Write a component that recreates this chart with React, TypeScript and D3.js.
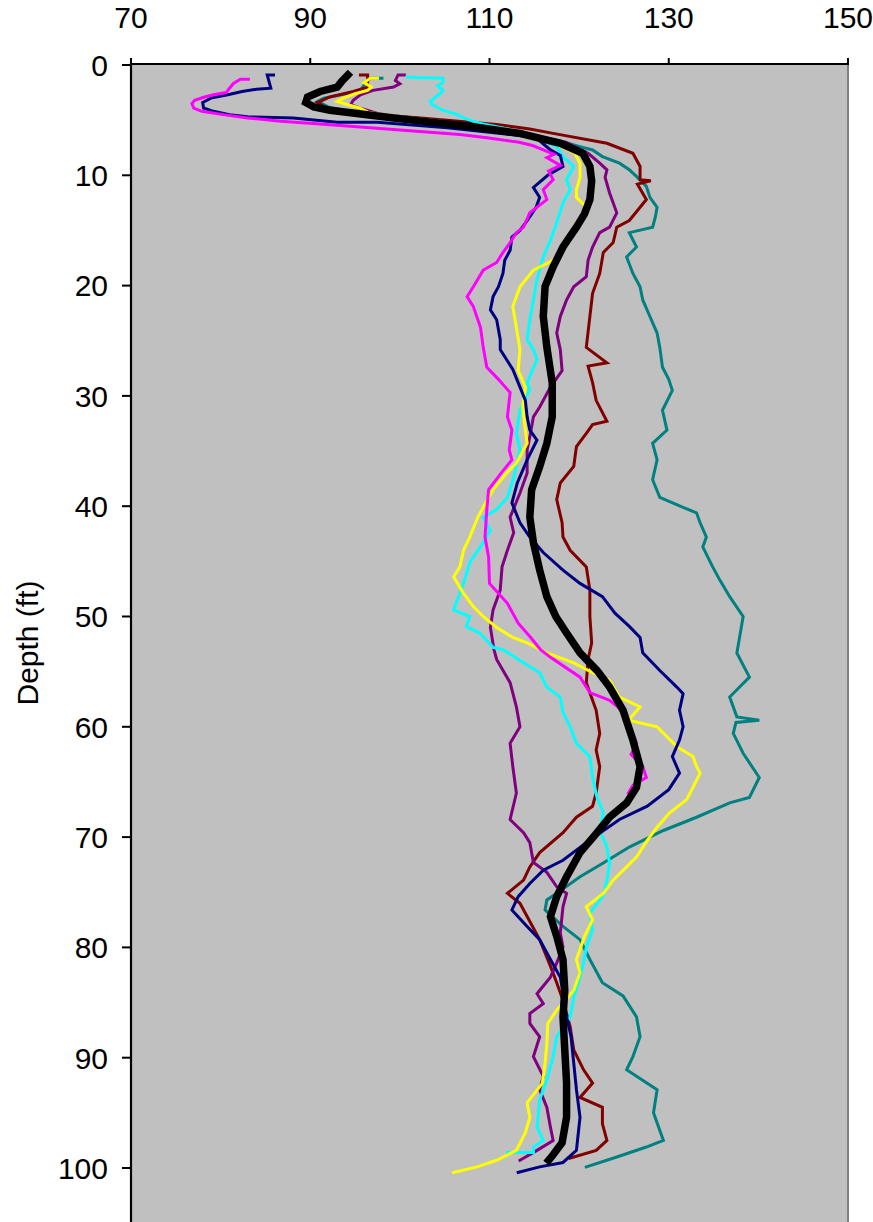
import React from "react";
import * as d3 from "d3";

const xTicks = [70, 90, 110, 130, 150];
const yTicks = [0, 10, 20, 30, 40, 50, 60, 70, 80, 90, 100];

// [depth (ft), value]
const magenta: [number, number][] = [
  [1.3,83.1],[1.3,82.2],[1.7,81.4],[2.2,80.9],[2.5,80.6],[2.7,79.2],[2.9,78.2],[3.2,77.1],[3.5,76.8],[3.9,77.0],[4.2,77.9],[4.5,80.3],[4.8,83.0],[5.1,86.7],[5.3,90.3],[5.6,95.2],[5.9,100.0],[6.3,106.7],[6.6,109.7],[7.0,113.3],[7.3,114.8],[7.7,116.0],[8.1,117.2],[8.4,116.4],[9.1,117.9],[9.6,116.6],[10.4,117.1],[11.3,116.0],[12.2,116.4],[13.4,114.5],[14.7,113.8],[15.2,113.0],[16.1,112.3],[17.0,111.5],[17.9,110.8],[18.6,109.3],[20.1,108.2],[21.0,107.5],[21.9,108.2],[23.8,109.0],[25.6,109.3],[27.4,109.7],[28.5,111.0],[29.7,112.3],[31.9,112.0],[33.1,112.5],[34.9,112.2],[35.8,112.5],[37.0,111.3],[38.5,109.9],[40.3,109.7],[42.8,109.5],[44.6,109.9],[47.0,110.0],[48.8,112.0],[50.6,113.2],[51.9,114.6],[53.0,115.7],[53.7,116.8],[55.5,120.1],[56.9,121.2],[57.6,123.4],[58.5,124.8],[59.5,125.3],[60.6,126.0],[61.5,126.4],[62.5,125.8],[63.6,127.1],[64.6,127.5],[65.3,126.0],[66.0,125.5]
];

const navy: [number, number][] = [
  [0.9,85.9],[0.9,85.2],[2.1,85.6],[2.2,84.0],[2.4,82.4],[2.7,80.8],[3.0,78.9],[3.4,78.0],[3.9,78.1],[4.2,79.2],[4.5,81.0],[4.7,83.0],[4.8,88.1],[5.2,93.0],[5.2,97.5],[5.7,105.3],[6.1,110.0],[6.5,114.5],[6.8,115.5],[7.7,116.8],[8.2,117.9],[9.2,118.2],[10.0,116.5],[11.1,114.9],[12.0,115.6],[12.9,115.2],[14.1,114.2],[15.0,113.4],[15.6,112.5],[16.8,112.3],[17.7,111.7],[18.9,111.5],[20.1,111.0],[21.0,110.4],[22.2,110.1],[23.1,110.8],[24.9,111.2],[25.8,111.2],[27.6,112.6],[28.8,113.2],[30.4,114.0],[31.9,114.2],[33.1,114.5],[34.0,115.3],[35.8,114.2],[37.9,113.1],[39.7,112.5],[41.5,113.4],[42.8,114.5],[44.2,116.0],[45.8,118.2],[47.0,120.1],[48.2,122.6],[49.7,124.0],[50.9,125.6],[51.9,126.8],[53.3,127.1],[54.9,129.0],[56.4,130.9],[57.0,131.6],[58.5,131.2],[60.0,131.6],[61.2,131.2],[62.7,130.4],[64.2,131.2],[65.7,130.0],[67.2,127.6],[68.4,124.5],[70.5,120.8],[72.1,118.2],[73.0,116.0],[74.2,114.5],[75.4,113.2],[76.6,112.5],[78.1,114.2],[79.3,115.6],[81.1,116.8],[82.7,117.9],[84.1,118.2],[86.3,118.6],[88.1,119.1],[90.5,119.4],[92.9,119.7],[95.4,120.1],[98.4,119.7],[99.5,118.2],[99.9,115.6],[100.4,113.2]
];

const teal: [number, number][] = [
  [1.2,98.0],[1.2,96.7],[1.6,96.2],[2.3,95.6],[2.6,94.0],[3.0,91.5],[3.3,90.8],[3.8,92.0],[4.4,95.5],[4.8,99.5],[5.2,103.5],[5.6,108.0],[6.2,113.5],[6.8,117.5],[7.4,120.1],[7.7,121.5],[8.3,122.6],[8.9,124.5],[9.5,125.6],[10.1,126.4],[11.0,127.5],[12.0,127.9],[12.9,128.7],[13.8,128.5],[14.7,128.2],[15.2,125.6],[16.5,126.4],[17.4,125.3],[18.9,126.0],[20.1,126.8],[21.3,127.1],[22.8,127.9],[24.3,128.7],[25.6,129.0],[27.4,129.3],[28.5,130.0],[29.5,130.4],[31.3,129.3],[33.1,129.8],[34.3,128.2],[35.8,128.7],[37.6,128.2],[39.2,129.0],[40.1,131.6],[40.6,133.1],[41.5,133.5],[42.8,134.2],[43.7,133.8],[45.5,134.9],[46.7,135.7],[48.2,136.8],[50.0,138.3],[51.9,137.9],[53.3,137.6],[55.5,139.0],[57.3,136.8],[59.1,137.6],[59.4,140.1],[59.6,137.5],[60.6,137.2],[62.4,138.3],[64.6,140.1],[66.4,139.0],[66.9,136.8],[68.2,133.1],[69.4,129.4],[70.9,125.6],[72.4,122.6],[73.6,120.1],[75.1,117.5],[75.7,116.4],[76.6,116.2],[78.1,118.2],[79.3,120.1],[81.1,121.2],[83.2,122.6],[84.4,124.9],[86.3,126.4],[88.1,126.8],[89.9,126.0],[91.1,125.3],[92.9,128.7],[95.0,128.3],[97.5,129.4],[98.1,127.5],[99.0,124.2],[99.9,120.8]
];

const maroon: [number, number][] = [
  [0.9,95.6],[0.9,96.4],[1.5,96.4],[2.0,96.4],[2.4,94.8],[2.9,92.2],[3.4,90.8],[3.9,91.8],[4.3,95.0],[4.6,99.0],[4.8,102.3],[5.4,110.8],[5.8,114.5],[6.2,117.1],[7.1,123.1],[8.0,126.0],[9.2,126.8],[10.4,126.8],[10.5,128.0],[10.8,126.5],[12.2,127.5],[14.1,125.6],[14.7,124.2],[16.1,123.8],[17.0,122.7],[18.9,122.3],[20.7,121.5],[22.8,121.2],[25.6,120.8],[27.0,123.1],[27.3,121.0],[28.8,121.5],[30.4,121.9],[32.3,123.1],[32.6,121.5],[33.4,120.8],[34.6,119.7],[36.4,119.4],[37.9,117.9],[39.4,117.5],[41.5,118.1],[42.8,118.2],[44.0,119.0],[45.5,120.8],[47.6,121.2],[50.0,121.2],[52.4,121.4],[53.9,121.0],[56.0,120.8],[58.5,121.9],[60.6,122.3],[62.1,121.9],[63.6,122.3],[66.0,121.9],[67.2,121.5],[68.2,119.7],[69.6,118.2],[71.4,115.6],[72.7,114.5],[73.9,113.8],[75.1,112.0],[76.0,113.4],[77.2,114.2],[79.3,115.6],[81.7,116.8],[83.2,117.5],[84.8,118.2],[87.2,119.0],[89.3,119.4],[91.1,120.5],[92.3,121.5],[93.6,120.1],[94.5,122.6],[96.0,122.6],[97.5,123.1],[98.4,121.9],[99.1,119.0]
];

const yellow: [number, number][] = [
  [1.2,97.5],[1.2,96.7],[1.6,96.0],[2.0,96.8],[2.3,96.4],[2.6,95.0],[3.0,93.7],[3.3,93.0],[3.6,94.2],[3.9,95.5],[4.3,96.5],[4.7,100.0],[5.1,104.5],[5.6,108.5],[6.2,113.5],[7.0,117.0],[8.0,119.5],[8.9,120.1],[10.2,120.1],[11.3,119.7],[12.0,119.7],[12.9,120.8],[14.7,119.4],[15.9,119.0],[17.7,117.1],[18.6,114.9],[20.1,113.4],[21.9,112.6],[23.8,113.0],[25.8,113.4],[27.7,113.2],[29.2,114.0],[31.0,113.7],[33.1,114.0],[34.3,114.2],[36.1,113.0],[37.0,111.9],[38.5,110.4],[40.1,109.3],[41.0,108.7],[42.8,107.8],[44.0,107.1],[45.5,106.7],[46.4,106.0],[47.9,107.1],[49.1,108.2],[50.0,109.3],[51.0,110.8],[51.9,112.6],[52.4,114.2],[53.3,116.4],[54.2,119.4],[55.1,121.5],[55.8,123.4],[57.3,124.5],[58.2,126.8],[59.4,125.5],[60.0,128.7],[60.9,129.8],[61.8,130.9],[62.7,132.7],[63.6,133.1],[64.2,133.5],[65.5,132.7],[66.6,132.0],[67.8,130.1],[69.1,128.7],[70.3,127.6],[71.8,126.4],[72.7,125.3],[73.9,123.8],[75.1,122.7],[76.3,120.8],[77.5,121.5],[79.0,120.6],[80.2,120.1],[81.1,119.7],[82.3,120.1],[83.9,119.4],[85.7,117.5],[86.9,116.5],[88.7,116.4],[90.5,116.2],[92.3,115.9],[94.1,114.2],[95.4,114.5],[96.8,114.0],[98.4,113.0],[99.3,110.8],[99.9,108.6],[100.4,106.0]
];

const purple: [number, number][] = [
  [0.9,100.5],[0.9,99.8],[1.4,99.5],[1.7,100.0],[2.0,99.3],[2.3,97.0],[2.7,95.6],[3.2,94.8],[3.6,94.5],[3.9,95.5],[4.4,97.5],[4.8,100.5],[5.2,104.0],[5.6,108.5],[6.2,113.5],[7.0,118.5],[8.0,121.0],[8.9,122.3],[9.5,123.1],[10.2,122.9],[11.6,123.4],[13.4,124.2],[14.7,123.4],[15.2,122.3],[16.5,121.5],[17.7,121.0],[19.2,120.8],[20.1,119.4],[21.3,118.6],[22.8,117.9],[24.3,117.5],[25.8,117.9],[27.7,118.1],[29.2,116.8],[31.0,115.6],[31.9,114.9],[33.7,114.5],[34.9,114.2],[37.0,114.2],[38.8,113.4],[41.0,112.3],[42.4,112.7],[44.0,112.0],[45.5,111.4],[47.6,111.2],[49.4,110.4],[51.0,110.1],[53.0,110.5],[53.9,110.8],[56.0,112.3],[58.2,113.0],[60.0,113.4],[61.5,112.3],[63.6,112.6],[66.0,113.0],[68.4,112.3],[69.6,113.8],[70.5,114.5],[72.3,114.9],[73.2,116.4],[74.5,117.5],[75.1,118.6],[76.3,118.2],[78.7,117.9],[80.0,118.2],[81.4,117.5],[82.7,116.8],[84.2,115.3],[85.1,116.0],[86.0,114.5],[86.9,114.5],[88.1,115.6],[89.9,114.9],[91.7,116.0],[92.9,115.6],[94.5,116.4],[96.3,116.8],[97.5,117.1],[98.4,115.3],[99.3,113.4]
];

const cyan: [number, number][] = [
  [1.1,100.8],[1.2,104.8],[1.6,104.8],[1.9,104.2],[2.3,104.8],[2.6,104.5],[2.9,104.0],[3.3,103.4],[3.6,103.6],[4.1,104.8],[4.5,106.4],[4.8,107.1],[5.0,107.8],[5.3,109.0],[5.8,112.0],[6.5,115.0],[7.4,117.5],[8.3,118.2],[9.2,119.4],[10.4,118.6],[11.3,119.0],[12.5,118.2],[14.3,117.5],[15.9,116.8],[17.4,116.0],[19.5,115.3],[21.3,114.9],[23.1,114.5],[24.9,114.2],[25.8,114.9],[26.7,115.3],[28.8,114.2],[29.4,114.5],[31.3,113.4],[33.4,113.0],[34.9,113.4],[37.4,112.7],[39.2,112.0],[40.3,110.8],[41.0,109.3],[42.2,110.1],[43.3,109.3],[45.1,107.8],[47.0,107.1],[49.4,106.0],[50.0,107.8],[50.9,107.4],[51.5,108.9],[52.8,110.4],[53.0,111.5],[54.2,113.8],[55.1,115.6],[56.4,116.4],[57.3,117.9],[58.7,118.2],[60.0,119.0],[61.5,119.7],[62.7,121.2],[64.6,121.5],[66.4,122.0],[67.8,122.7],[69.4,122.3],[70.9,123.1],[72.4,123.4],[73.9,123.1],[75.3,122.7],[76.9,121.2],[78.4,121.5],[80.0,120.8],[81.4,120.5],[82.7,120.1],[84.5,119.4],[86.3,119.0],[88.1,117.5],[89.9,117.1],[92.0,116.4],[93.8,115.6],[96.3,115.3],[97.5,116.0],[98.1,114.9],[98.6,114.9],[98.6,112.0]
];

const mean: [number, number][] = [
  [0.9,94.2],[1.5,93.5],[2.0,93.0],[2.4,91.1],[2.9,89.7],[3.4,89.5],[3.8,90.4],[4.1,92.2],[4.4,95.2],[4.8,99.3],[5.2,103.7],[5.6,108.2],[6.2,113.4],[7.1,117.9],[8.0,120.4],[9.2,121.2],[10.5,121.4],[12.2,121.2],[13.5,120.6],[14.7,119.7],[16.5,118.2],[18.3,117.1],[20.1,116.2],[22.8,116.0],[25.6,116.4],[28.8,117.0],[31.9,117.0],[34.3,116.4],[36.4,115.6],[38.5,114.7],[41.0,114.5],[43.3,114.9],[45.8,115.6],[48.2,116.4],[50.0,117.4],[51.5,118.6],[53.3,120.1],[54.9,122.0],[56.4,123.4],[58.5,124.9],[61.2,126.0],[63.6,126.8],[65.5,126.4],[66.9,125.3],[68.2,123.4],[69.6,122.0],[71.4,120.1],[73.6,118.6],[75.4,117.5],[77.2,116.8],[79.0,117.5],[81.1,118.2],[83.9,118.4],[86.3,118.2],[89.3,118.4],[92.3,118.6],[95.4,118.6],[97.7,118.1],[98.8,117.1],[99.3,116.6]
];

const seriesList: { data: [number, number][]; color: string; width: number }[] = [
  { data: teal, color: "#008080", width: 3 },
  { data: maroon, color: "#800000", width: 3 },
  { data: purple, color: "#800080", width: 3 },
  { data: cyan, color: "#00FFFF", width: 3 },
  { data: yellow, color: "#FFFF00", width: 3 },
  { data: navy, color: "#000080", width: 3 },
  { data: magenta, color: "#FF00FF", width: 3 },
  { data: mean, color: "#000000", width: 7.5 },
];

const W = 873;
const H = 1222;
const left = 131;
const right = 848;
const top = 64;
const pxPerFt = 11.03;

export default function App() {
  const x = d3.scaleLinear().domain([70, 150]).range([left, right]);
  const y = d3.scaleLinear().domain([0, 105]).range([top + 1, top + 1 + 105 * pxPerFt]);
  const line = d3
    .line<[number, number]>()
    .x((d) => x(d[1]))
    .y((d) => y(d[0]));
  const font = "'Liberation Sans', Arial, sans-serif";

  return (
    <svg
      width={W}
      height={H}
      style={{ position: "absolute", left: 0, top: 0, background: "#fff" }}
      fontFamily={font}
    >
      <defs>
        <clipPath id="plot">
          <rect x={left} y={top} width={right - left} height={H - top} />
        </clipPath>
      </defs>
      <rect x={left} y={top} width={right - left} height={H - top} fill="#C0C0C0" />
      <g clipPath="url(#plot)">
        {seriesList.map((s, i) => (
          <path
            key={i}
            d={line(s.data) || ""}
            fill="none"
            stroke={s.color}
            strokeWidth={s.width}
            strokeLinejoin="miter"
            strokeLinecap="square"
          />
        ))}
      </g>
      <line x1={right} x2={right} y1={top} y2={H} stroke="#808080" strokeWidth={2} />
      <line x1={left} x2={right + 1} y1={top} y2={top} stroke="#000" strokeWidth={2.2} />
      {xTicks.map((t) => (
        <g key={t}>
          <line x1={x(t)} x2={x(t)} y1={top} y2={top - 6} stroke="#000" strokeWidth={2} />
          <text x={x(t)} y={28} textAnchor="middle" fontSize={30} fill="#000">
            {t}
          </text>
        </g>
      ))}
      <line x1={left} x2={left} y1={top - 1} y2={H} stroke="#000" strokeWidth={2.2} />
      {yTicks.map((t) => (
        <g key={t}>
          <line x1={left - 9} x2={left} y1={y(t)} y2={y(t)} stroke="#000" strokeWidth={2} />
          <text x={108} y={y(t) + 10.8} textAnchor="end" fontSize={30} fill="#000">
            {t}
          </text>
        </g>
      ))}
      <text
        transform={`translate(38, 643) rotate(-90)`}
        textAnchor="middle"
        fontSize={30}
        fill="#000"
      >
        Depth (ft)
      </text>
    </svg>
  );
}
